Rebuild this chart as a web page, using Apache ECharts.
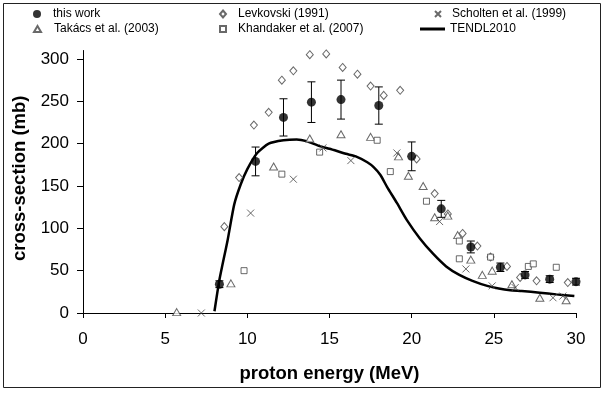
<!DOCTYPE html>
<html>
<head>
<meta charset="utf-8">
<script src="https://cdn.jsdelivr.net/npm/echarts@6/dist/echarts.min.js"></script>
<style>html,body{margin:0;padding:0;background:#fff}#c{width:605px;height:394px}</style>
</head>
<body>
<div id="c"></div>
<script>
// ---- data ----
const thisWorkE   = [8.3, 10.5, 12.2, 13.9, 15.7, 18.0, 20.0, 21.8, 23.6, 25.4, 26.9, 28.4, 30.0];
const thisWorkXS  = [34, 179, 231, 249, 252, 245, 185, 123, 78, 54, 45, 40, 37];
const thisWorkErr = [4, 17, 22, 24, 23, 22, 17, 10, 7, 5, 4, 4, 4];

const levkovskiE  = [8.6, 9.5, 10.4, 11.3, 12.1, 12.8, 13.8, 14.8, 15.8, 16.7, 17.5, 18.3, 19.3, 20.3, 21.4, 22.2, 23.1, 24.0, 24.8, 25.8, 26.6, 27.6, 29.5];
const levkovskiXS = [102, 160, 222, 237, 275, 286, 305, 306, 290, 282, 268, 257, 263, 182, 141, 117, 94, 79, 66, 55, 42, 38, 36];

const takacsE  = [5.7, 9.0, 11.6, 13.8, 15.7, 17.5, 19.2, 19.8, 20.7, 21.4, 22.2, 22.8, 23.6, 24.3, 24.9, 26.1, 27.8, 29.4];
const takacsXS = [1, 35, 173, 206, 211, 208, 185, 162, 150, 113, 115, 92, 63, 45, 50, 34, 18, 15];

const scholtenE  = [7.2, 10.2, 12.8, 14.6, 16.3, 19.1, 21.7, 23.3, 24.9, 26.3, 28.6, 29.2];
const scholtenXS = [0, 118, 158, 195, 180, 189, 108, 52, 32, 30, 18, 20];

const khandakerE  = [9.8, 12.1, 14.4, 17.9, 18.7, 20.9, 22.9, 22.9, 24.8, 27.1, 27.4, 28.8];
const khandakerXS = [50, 164, 190, 204, 167, 132, 85, 64, 66, 55, 58, 54];

const tendlE  = [8.0, 8.3, 8.8, 9.2, 9.6, 10.0, 10.6, 11.3, 12.2, 13.0, 13.6, 14.4, 15.0, 16.0, 16.6, 17.3, 17.7, 18.1, 18.5, 19.1, 19.7, 20.5, 21.3, 22.1, 22.9, 23.7, 24.6, 25.3, 26.0, 26.7, 27.8, 28.8, 29.9];
const tendlXS = [2, 39, 86, 128, 152, 170, 189, 200, 204, 205, 203, 197, 194, 188, 185, 178, 172, 163, 149, 130, 110, 88, 70, 55, 45, 38, 32, 29, 27, 26, 24, 22, 20];

const xTicks = [0, 5, 10, 15, 20, 25, 30];
const yTicks = [0, 50, 100, 150, 200, 250, 300];
const yTop = 310;

const names = ['this work', 'Levkovski (1991)', 'Scholten et al. (1999)', 'Takács et al. (2003)', 'Khandaker et al. (2007)', 'TENDL2010'];

// ---- build ----
const zip = (a, b) => a.map((v, i) => [v, b[i]]);
const FONT = '"Liberation Sans", Arial, sans-serif';
const MK = '#444';
const openStyle = { color: '#fff', borderColor: MK, borderWidth: 1 };

function legendAt(item, left, top, w, h, pad) {
  return {
    data: [item], left: left, top: top, itemWidth: w, itemHeight: h,
    selectedMode: false, padding: 0,
    textStyle: { fontFamily: FONT, fontSize: 12, color: '#000', padding: [0, 0, 0, pad] }
  };
}

const chart = echarts.init(document.getElementById('c'), null, { renderer: 'canvas' });
chart.setOption({
  animation: false,
  backgroundColor: '#fff',
  graphic: [{
    type: 'rect', shape: { x: 3.5, y: 3.5, width: 597, height: 384 },
    style: { fill: 'none', stroke: '#222', lineWidth: 1 }, silent: true, z: -10
  }],
  legend: [
    legendAt(names[0], 33, 8, 8, 8, 7),
    legendAt(names[3], 33, 23, 7, 6, 8),
    legendAt(names[1], 219, 8, 6, 7, 7),
    legendAt(names[4], 219, 23, 6, 6, 7),
    legendAt(names[2], 434, 8, 6, 6, 6),
    legendAt({ name: names[5], icon: 'rect', itemStyle: { color: '#000' } }, 420, 23, 25, 3, 0)
  ],
  grid: { left: 83, right: 29, top: 50.5, bottom: 81, containLabel: false },
  xAxis: {
    type: 'value', min: xTicks[0], max: xTicks[xTicks.length - 1], interval: 5,
    name: 'proton energy (MeV)', nameLocation: 'middle', nameGap: 51,
    nameTextStyle: { fontFamily: FONT, fontSize: 18.5, fontWeight: 'bold', color: '#000' },
    axisLine: { show: true, onZero: false, lineStyle: { color: '#000', width: 1 } },
    axisTick: { show: true, inside: false, length: 5, lineStyle: { color: '#000' } },
    axisLabel: { fontFamily: FONT, fontSize: 17, color: '#000', margin: 18 },
    splitLine: { show: false }
  },
  yAxis: {
    type: 'value', min: yTicks[0], max: yTop, interval: 50,
    name: 'cross-section (mb)', nameLocation: 'middle', nameGap: 52,
    nameTextStyle: { fontFamily: FONT, fontSize: 18.5, fontWeight: 'bold', color: '#000', padding: [0, 0, 0, 7] },
    axisLine: { show: true, lineStyle: { color: '#000', width: 1 } },
    axisTick: { show: true, inside: false, length: 6, lineStyle: { color: '#000' }, customValues: yTicks },
    axisLabel: { fontFamily: FONT, fontSize: 17, color: '#000', margin: 14, customValues: yTicks },
    splitLine: { show: false }
  },
  series: [
    {
      name: names[5], type: 'line', data: zip(tendlE, tendlXS), symbol: 'none', smooth: 0.2,
      lineStyle: { color: '#000', width: 2.5 }, itemStyle: { color: '#000' }, z: 2, clip: false
    },
    {
      name: names[1], type: 'scatter', data: zip(levkovskiE, levkovskiXS), symbol: 'diamond', symbolSize: [7, 8],
      itemStyle: openStyle, z: 3, clip: false
    },
    {
      name: names[3], type: 'scatter', data: zip(takacsE, takacsXS), symbol: 'triangle', symbolSize: [8, 7],
      itemStyle: openStyle, z: 3, clip: false
    },
    {
      name: names[4], type: 'scatter', data: zip(khandakerE, khandakerXS), symbol: 'rect', symbolSize: 6,
      itemStyle: openStyle, z: 3, clip: false
    },
    {
      name: names[2], type: 'scatter', data: zip(scholtenE, scholtenXS),
      symbol: 'path://M0,0L10,10M10,0L0,10', symbolSize: 7,
      itemStyle: { color: 'rgba(0,0,0,0)', borderColor: MK, borderWidth: 1 }, z: 3, clip: false
    },
    {
      name: 'errbars', type: 'custom',
      data: thisWorkE.map((e, i) => [e, thisWorkXS[i], thisWorkErr[i]]),
      renderItem: function (params, api) {
        const x = api.value(0), y = api.value(1), d = api.value(2);
        const t = api.coord([x, y + d]), b = api.coord([x, y - d]);
        const c = 4;
        const st = { stroke: '#000', lineWidth: 1 };
        return {
          type: 'group', children: [
            { type: 'line', shape: { x1: t[0], y1: t[1], x2: b[0], y2: b[1] }, style: st },
            { type: 'line', shape: { x1: t[0] - c, y1: t[1], x2: t[0] + c, y2: t[1] }, style: st },
            { type: 'line', shape: { x1: b[0] - c, y1: b[1], x2: b[0] + c, y2: b[1] }, style: st }
          ]
        };
      },
      z: 4, silent: true
    },
    {
      name: names[0], type: 'scatter', data: zip(thisWorkE, thisWorkXS), symbol: 'circle', symbolSize: 9,
      itemStyle: { color: '#000' }, z: 5, clip: false
    }
  ]
});
</script>
</body>
</html>
